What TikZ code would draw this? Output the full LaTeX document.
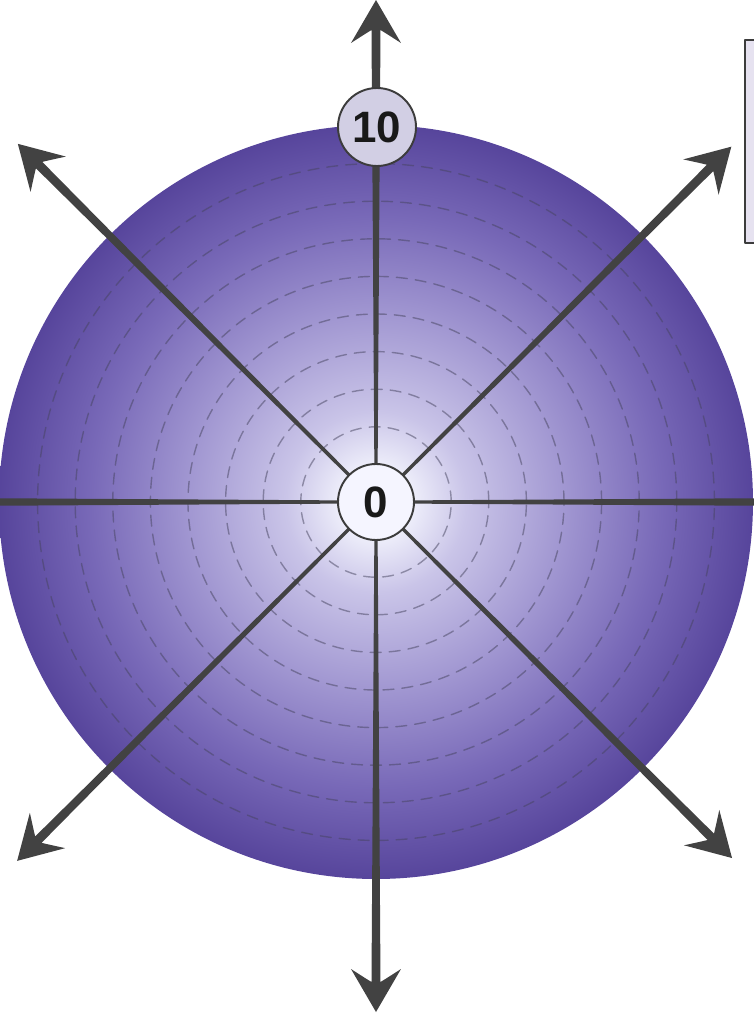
\documentclass[tikz,border=0pt]{standalone}
\usepackage{fontspec}
\newfontfamily\labelfont{Liberation Sans}
\definecolor{raygray}{RGB}{66,66,66}
\definecolor{rimgray}{RGB}{60,60,60}
\definecolor{tagfill}{RGB}{210,207,228}
\definecolor{boxfill}{RGB}{230,226,240}
\definecolor{ringcol}{RGB}{70,68,95}
\pgfdeclareradialshading{orbshade}{\pgfpoint{0cm}{0cm}}{%
  rgb(0bp)=(0.99,0.99,1);
  rgb(2.5bp)=(0.93,0.93,0.98);
  rgb(6bp)=(0.79,0.77,0.91);
  rgb(12.5bp)=(0.63,0.59,0.82);
  rgb(19bp)=(0.47,0.41,0.72);
  rgb(25bp)=(0.34,0.27,0.61);
  rgb(50bp)=(0.34,0.27,0.61)}

\begin{document}
\begin{tikzpicture}[line cap=round,line join=round,
  ringdash/.style={draw=ringcol,draw opacity=0.5,line width=0.8pt,dash pattern=on 0.22cm off 0.16cm},
  hub/.style={circle,draw=rimgray,line width=1.1pt,minimum size=1.52cm,inner sep=0pt,
    font=\labelfont\bfseries\fontsize{25}{25}\selectfont,text=black!90}]
  \clip (-7.52,-10.24) rectangle (7.56,10.04);
  % note box, cut off at the right edge
  \draw[fill=boxfill,draw=rimgray,line width=1.1pt] (7.38,9.24) rectangle (9.5,5.18);
  % shaded disc with the rings
  \shade[shading=orbshade] (0,0) circle (7.54);
  \foreach \k in {2,...,9}
    \draw[ringdash] (0,0) circle (\k*0.752);
  % rays, thicker towards the tips
  \foreach \a/\len in {0/10.6,45/10.05,90/10.04,135/10.13,180/10.6,225/10.15,270/10.2,315/10.07}
    \fill[raygray,rotate=\a] (0,-0.028) -- ({\len-0.6},-0.09)
      .. controls ({\len-0.68},-0.22) .. ({\len-0.86},-0.5) -- (\len,0)
      -- ({\len-0.86},0.5) .. controls ({\len-0.68},0.22) .. ({\len-0.6},0.09)
      -- (0,0.028) -- cycle;
  \node[hub,fill=white!96!blue] (zero) at (0,0) {0};
  \node[hub,fill=tagfill,minimum size=1.56cm] (ten) at (0.02,7.5) {10};
\end{tikzpicture}
\end{document}
